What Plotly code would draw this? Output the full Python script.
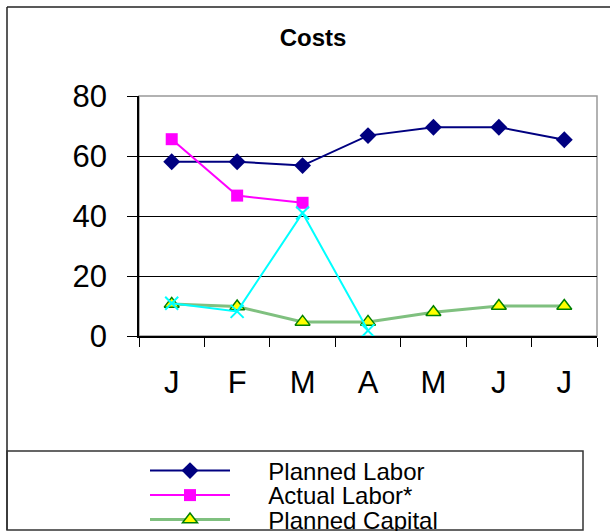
import plotly.graph_objects as go

months = ["Jan", "Feb", "Mar", "Apr", "May", "Jun", "Jul"]
tick_labels = ["J", "F", "M", "A", "M", "J", "J"]

planned_labor = [58.1, 58.1, 56.8, 66.8, 69.6, 69.6, 65.4]
actual_labor = [65.6, 46.8, 44.4, None, None, None, None]
planned_capital = [10.7, 9.8, 4.7, 4.7, 7.9, 10.0, 10.0]
actual_capital = [10.9, 8.2, 41.0, 1.8, None, None, None]

W, H = 610, 531
L, R, T, B = 139, 597, 96, 336
FONT = "Liberation Sans, Arial, sans-serif"
PAD = "\u00a0" * 5


def px(x):
    return (x - L) / (R - L)


def py(y):
    return (B - y) / (B - T)


fig = go.Figure()
fig.add_trace(go.Scatter(
    x=months, y=planned_labor, name=PAD + "Planned Labor", mode="lines+markers",
    line=dict(color="#000080", width=2),
    marker=dict(symbol="diamond", size=13, color="#000080"),
    legend="legend"))
fig.add_trace(go.Scatter(
    x=months, y=actual_labor, name=PAD + "Actual Labor*", mode="lines+markers",
    line=dict(color="#FF00FF", width=2),
    marker=dict(symbol="square", size=12, color="#FF00FF"),
    legend="legend2"))
fig.add_trace(go.Scatter(
    x=months, y=planned_capital, name=PAD + "Planned Capital", mode="lines+markers",
    line=dict(color="#7FC07F", width=3),
    marker=dict(symbol="triangle-up", size=13, color="#FFFF00",
                line=dict(color="#008000", width=1.5)),
    legend="legend3"))
fig.add_trace(go.Scatter(
    x=months, y=actual_capital, name="Actual Capital*", mode="lines+markers",
    line=dict(color="#00FFFF", width=2),
    marker=dict(symbol="x-thin", size=13, color="#00FFFF",
                line=dict(color="#00FFFF", width=2)),
    showlegend=False))

leg_common = dict(xref="container", yref="container", xanchor="left", yanchor="middle",
                  x=145 / W, bgcolor="rgba(0,0,0,0)", borderwidth=0, itemwidth=80,
                  font=dict(family=FONT, size=24, color="black"))
rows = [471, 495.5, 520]

shapes = [
    dict(type="rect", xref="paper", yref="paper", x0=0, x1=1, y0=0, y1=1,
         line=dict(color="#999999", width=1.5), layer="below"),
    dict(type="line", xref="paper", yref="paper", x0=px(7), x1=px(7), y0=py(7), y1=py(530),
         line=dict(color="#222222", width=1.5)),
    dict(type="line", xref="paper", yref="paper", x0=px(7), x1=px(615), y0=py(7), y1=py(7),
         line=dict(color="#222222", width=1.5)),
    dict(type="rect", xref="paper", yref="paper", x0=px(7), x1=px(583), y0=py(451), y1=py(530),
         line=dict(color="#333333", width=1.5)),
]

fig.update_layout(
    width=W, height=H, autosize=False,
    margin=dict(l=L, r=W - R, t=T, b=H - B, autoexpand=False),
    paper_bgcolor="white", plot_bgcolor="white",
    font=dict(family=FONT, color="black"),
    title=dict(text="<b>Costs</b>", xref="container", yref="container",
               x=313 / W, xanchor="center", y=1 - 38 / H, yanchor="middle",
               font=dict(family=FONT, size=24, color="black")),
    xaxis=dict(type="category", range=[-0.5, 6.5], tickmode="array",
               tickvals=months, ticktext=tick_labels, tickson="boundaries",
               ticks="outside", ticklen=9, tickcolor="black", tickwidth=1,
               showgrid=False, showline=True, linecolor="black", linewidth=1.5,
               tickfont=dict(family=FONT, size=31, color="black"),
               ticklabelstandoff=18),
    yaxis=dict(range=[0, 80], dtick=20, tick0=0,
               ticks="outside", ticklen=10, tickcolor="black", tickwidth=1,
               showgrid=True, gridcolor="black", gridwidth=1,
               showline=True, linecolor="black", linewidth=1.5, zeroline=False,
               tickfont=dict(family=FONT, size=31, color="black"),
               ticklabelstandoff=14),
    showlegend=True,
    legend=dict(leg_common, y=1 - rows[0] / H),
    legend2=dict(leg_common, y=1 - rows[1] / H),
    legend3=dict(leg_common, y=1 - rows[2] / H),
    shapes=shapes,
)

fig.write_html(
    "out.html",
    config={"displayModeBar": False},
    post_script="document.body.style.margin='0';document.body.style.overflow='hidden';",
)
